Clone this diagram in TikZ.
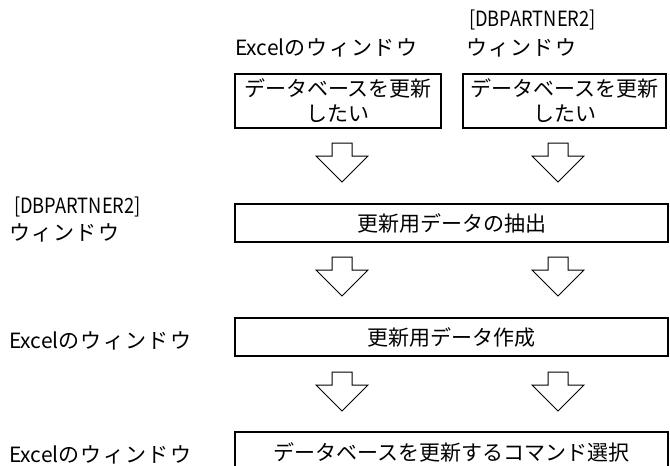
\documentclass[tikz,border=0pt]{standalone}
\usepackage{fontspec}
\setmainfont{Noto Sans CJK JP}
\newfontfamily\plainfont{Noto Sans CJK JP}
\newfontfamily\lblfont[LetterSpace=6]{Noto Sans CJK JP}
\newcommand{\narrowtxt}[1]{\scalebox{0.87}[1]{\plainfont #1}}
\begin{document}
\begin{tikzpicture}[x=1pt,y=-1pt,
  box/.style={draw, line width=1.6pt, rectangle, inner sep=0pt, align=center,
    font=\fontsize{21}{25}\selectfont},
  lbl/.style={inner sep=0pt, anchor=west, font=\lblfont\fontsize{21}{25}\selectfont},
  blockarrow/.pic={\draw[line width=1pt, fill=white, line join=miter]
    (-10,0) -- (10,0) -- (10,13) -- (26,13) -- (0,39) -- (-26,13) -- (-10,13) -- cycle;}
]
\clip (0,0) rectangle (670,466);
\fill[white] (0,0) rectangle (670,466);

% top labels
\node[lbl] (lexcel) at (235,48) {{\plainfont Excel}のウィンドウ};
\node[lbl] (ldbp) at (469,20) {\narrowtxt{[DBPARTNER2]}};
\node[lbl] (lwin) at (466,48) {ウィンドウ};

% top boxes
\node[box, minimum width=206pt, minimum height=54pt] (b1) at (338,101) {データベースを更新\\したい};
\node[box, minimum width=203pt, minimum height=54pt] (b2) at (564.5,101) {データベースを更新\\したい};

% middle boxes
\node[box, minimum width=433pt, minimum height=38pt] (b3) at (451.5,223) {更新用データの抽出};
\node[box, minimum width=433pt, minimum height=38pt] (b4) at (451.5,337) {更新用データ作成};
\node[box, minimum width=433pt, minimum height=40pt] (b5) at (451.5,452) {データベースを更新するコマンド選択};

% left labels
\node[lbl] (ldbp2) at (14,207) {\narrowtxt{[DBPARTNER2]}};
\node[lbl] (lwin2) at (9,233) {ウィンドウ};
\node[lbl] (lexcel2) at (9,341) {{\plainfont Excel}のウィンドウ};
\node[lbl] (lexcel3) at (9,455) {{\plainfont Excel}のウィンドウ};

% block arrows
\pic at (342,143) {blockarrow};
\pic at (558,143) {blockarrow};
\pic at (342,257) {blockarrow};
\pic at (558,257) {blockarrow};
\pic at (342,372) {blockarrow};
\pic at (558,372) {blockarrow};
\end{tikzpicture}
\end{document}
